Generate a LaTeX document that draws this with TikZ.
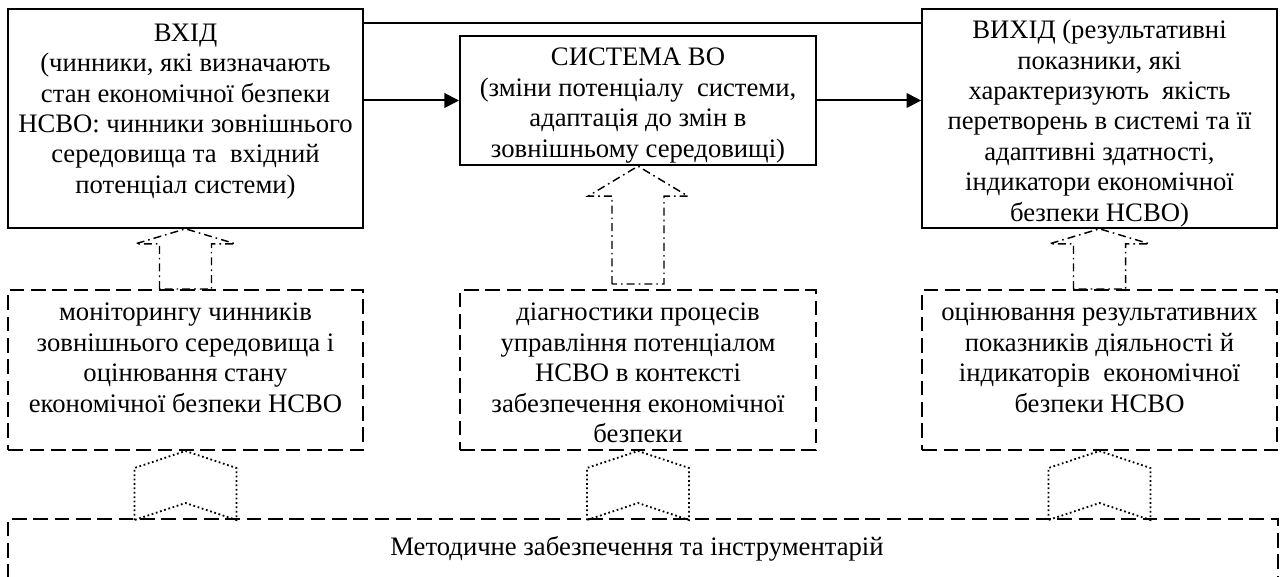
\documentclass[tikz,border=0pt]{standalone}
\usepackage{fontspec}
\setmainfont{Liberation Serif}
\usetikzlibrary{arrows.meta,positioning,calc}

\begin{document}
\begin{tikzpicture}[
    x=0.75pt, y=-0.75pt,
    font=\fontsize{20}{22.8}\selectfont,
    box/.style={draw, line width=1.5pt, inner sep=0pt},
    dbox/.style={draw, line width=1.5pt, dash pattern=on 11pt off 5pt, inner sep=0pt},
    txt/.style={align=center, inner sep=0pt},
    link/.style={-{Triangle[length=11pt,width=11pt]}, line width=1.5pt},
    bigarrow/.style={line width=1.1pt, dash pattern=on 6pt off 3pt on 1.2pt off 3pt},
    chevron/.style={line width=1.4pt, dash pattern=on 1.3pt off 2pt}
]
\useasboundingbox (0,0) rectangle (1284,577);

% system blocks
\node[box, minimum width=266pt, minimum height=164pt] (in) at (185.5,118.5) {};
\node[box, minimum width=267pt, minimum height=97pt] (sys) at (638,100.5) {};
\node[box, minimum width=266pt, minimum height=164pt] (out) at (1099.5,118.5) {};
\node[txt] (intext) at ($(in.center)+(0,-7)$)
    {ВХІД\\(чинники, які визначають\\стан економічної безпеки\\НСВО: чинники зовнішнього\\середовища та\ \ вхідний\\потенціал системи)};
\node[txt] (systext) at ($(sys.center)+(0,5)$)
    {СИСТЕМА ВО\\(зміни потенціалу\ \ системи,\\адаптація до змін в\\зовнішньому середовищі)};
\node[txt] (outtext) at ($(out.center)+(0,5)$)
    {ВИХІД (результативні\\показники, які\\характеризують\ \ якість\\перетворень в системі та її\\адаптивні здатності,\\індикатори економічної\\безпеки НСВО)};

\coordinate (top) at (0,23);
\draw[line width=1.5pt] (in.east |- top) -- (out.west |- top);
\draw[link] (in.east |- sys.west) -- (sys.west);
\draw[link] (sys.east) -- (sys.east -| out.west);

% analysis blocks
\node[dbox, minimum width=266pt, minimum height=120pt] (mon) at (185.5,370) {};
\node[dbox, minimum width=267pt, minimum height=120pt] (diag) at (638,370) {};
\node[dbox, minimum width=266pt, minimum height=120pt] (res) at (1099.5,370) {};
\node[txt, anchor=north] (montext) at ($(mon.north)+(0,14)$)
    {моніторингу чинників\\зовнішнього середовища і\\оцінювання стану\\економічної безпеки НСВО};
\node[txt, anchor=north] (diagtext) at ($(diag.north)+(0,14)$)
    {діагностики процесів\\управління потенціалом\\НСВО в контексті\\забезпечення економічної\\безпеки};
\node[txt, anchor=north] (restext) at ($(res.north)+(0,14)$)
    {оцінювання результативних\\показників діяльності й\\індикаторів\ \ економічної\\безпеки НСВО};

\node[dbox, minimum width=952.5pt, minimum height=45pt] (tools) at (643,549) {};
\node[txt] (toolstext) at ($(tools.center)+(-6,0)$) {Методичне забезпечення та інструментарій};

% block arrows up
\foreach \tip/\base/\gap/\head in {in.south/mon.north/0/15, sys.south/diag.north/5/30, out.south/res.north/0/15}{
  \draw[bigarrow] ($(\base)+(-26,-\gap)$) -- ($(\tip)+(-26,\head)$) -- ($(\tip)+(-50,\head)$)
    -- (\tip) -- ($(\tip)+(50,\head)$) -- ($(\tip)+(26,\head)$) -- ($(\base)+(26,-\gap)$) -- cycle;
}

% chevrons
\foreach \n in {mon,diag,res}{
  \draw[chevron] ($(\n.south)+(-51,69)$) -- ($(\n.south)+(-51,17)$) -- (\n.south)
    -- ($(\n.south)+(51,17)$) -- ($(\n.south)+(51,69)$) -- ($(\n.south)+(0,52)$) -- cycle;
}
\end{tikzpicture}
\end{document}
